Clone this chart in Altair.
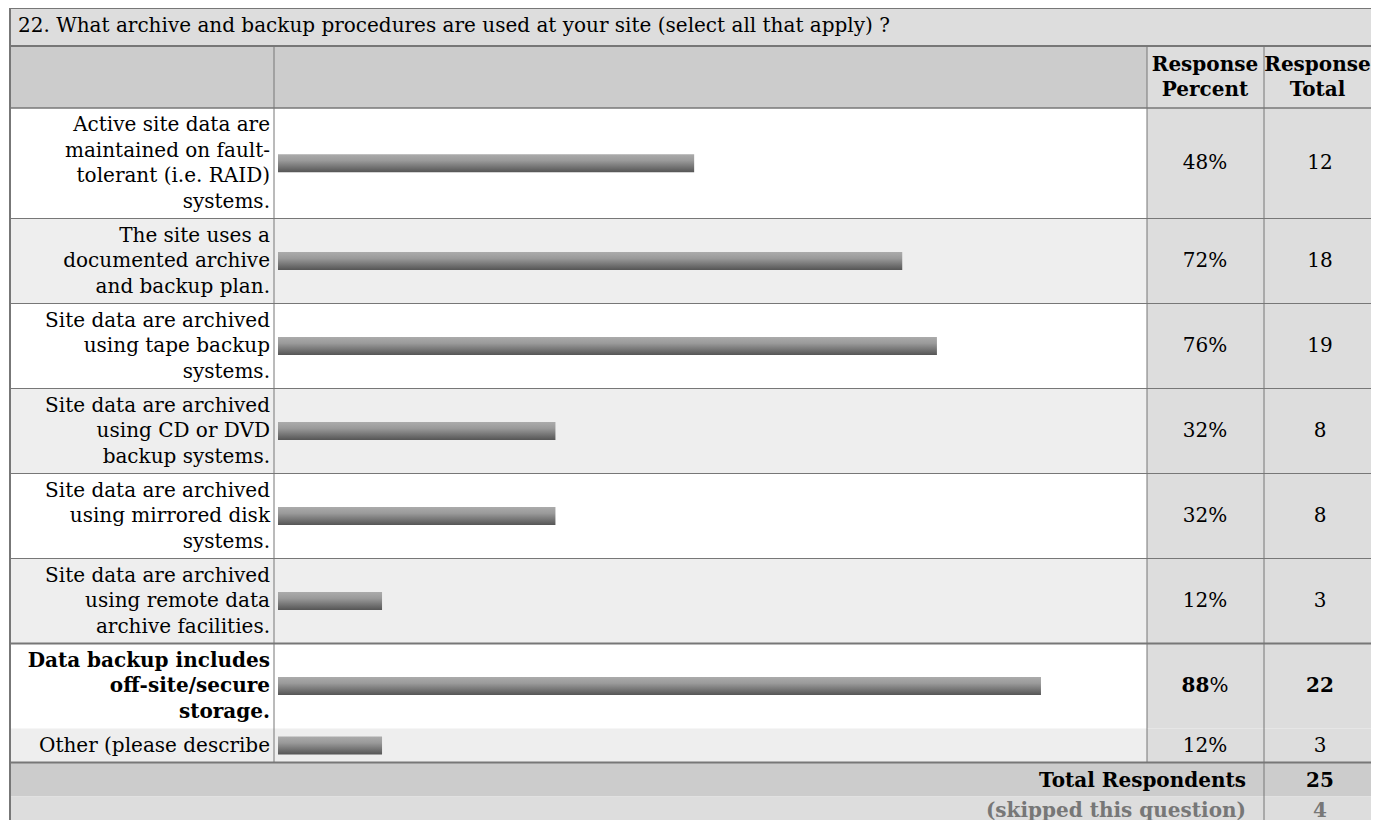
import altair as alt
import pandas as pd

# ---------------- data ----------------
question = "22. What archive and backup procedures are used at your site (select all that apply) ?"
labels = [
    "Active site data are\nmaintained on fault-\ntolerant (i.e. RAID)\nsystems.",
    "The site uses a\ndocumented archive\nand backup plan.",
    "Site data are archived\nusing tape backup\nsystems.",
    "Site data are archived\nusing CD or DVD\nbackup systems.",
    "Site data are archived\nusing mirrored disk\nsystems.",
    "Site data are archived\nusing remote data\narchive facilities.",
    "Data backup includes\noff-site/secure\nstorage.",
    "Other (please describe",
]
percents = [48, 72, 76, 32, 32, 12, 88, 12]
totals = [12, 18, 19, 8, 8, 3, 22, 3]
highlight = [False, False, False, False, False, False, True, False]
header_pct = "Response\nPercent"
header_total = "Response\nTotal"
total_label = "Total Respondents"
total_respondents = 25
skipped_label = "(skipped this question)"
skipped = 4

# ---------------- layout (page pixels) ----------------
PAGE = 8
W, H = 1363, 812
XL, XA, XB, XC, XR = 10, 274, 1147, 1264, PAGE + W
Y_TOP, Y_HEAD, Y_ROWS = 6, 46, 108
LINE_H = 25.5
PAD = 8.5
FONT = "DejaVu Serif"
FS = 20
X_LABEL, X_PCT, X_TOT = 270, 1205, 1320

row_top, row_bot, nlines = [], [], []
y = Y_ROWS
for lab in labels:
    n = lab.count("\n") + 1
    nlines.append(n)
    row_top.append(y)
    y = y + n * LINE_H + PAD
    row_bot.append(y)
Y_TOTAL = y
Y_SKIP = Y_TOTAL + LINE_H + PAD
Y_BOT = PAGE + H

rows = pd.DataFrame({
    "label": labels,
    "pct": percents,
    "total": totals,
    "bold": highlight,
    "top": row_top,
    "bot": row_bot,
    "n": nlines,
})
rows["mid"] = (rows["top"] + rows["bot"]) / 2
rows["ty"] = rows["mid"] - (rows["n"] - 1) * LINE_H / 2
rows["pct_text"] = rows["pct"].astype(str) + "%"
rows["pct_num"] = rows["pct"].astype(str)
rows["total_text"] = rows["total"].astype(str)

# background cells
cells = [
    dict(x=XL, x2=XR, y=PAGE, y2=Y_HEAD, fill="#dddddd"),
    dict(x=XL, x2=XB, y=Y_HEAD, y2=Y_ROWS, fill="#cccccc"),
    dict(x=XB, x2=XR, y=Y_HEAD, y2=Y_ROWS, fill="#dddddd"),
]
for i, (t, b) in enumerate(zip(row_top, row_bot)):
    cells.append(dict(x=XL, x2=XB, y=t, y2=b, fill="#ffffff" if i % 2 == 0 else "#eeeeee"))
    cells.append(dict(x=XB, x2=XR, y=t, y2=b, fill="#dddddd"))
cells.append(dict(x=XL, x2=XR, y=Y_TOTAL, y2=Y_SKIP, fill="#cccccc"))
cells.append(dict(x=XL, x2=XR, y=Y_SKIP, y2=Y_BOT, fill="#dddddd"))
cells = pd.DataFrame(cells)

# grid lines
lines = [
    dict(x=XL, x2=XR, y=PAGE + 0.5, y2=PAGE + 0.5, w=1),
    dict(x=XL, x2=XR, y=Y_HEAD, y2=Y_HEAD, w=2),
    dict(x=XL, x2=XR, y=Y_ROWS, y2=Y_ROWS, w=1.5),
]
for i, b in enumerate(row_bot[:-2]):
    lines.append(dict(x=XL, x2=XR, y=b, y2=b, w=2 if i == len(row_bot) - 3 else 1))
lines.append(dict(x=XL, x2=XR, y=Y_TOTAL, y2=Y_TOTAL, w=2))
lines.append(dict(x=XL, x2=XL, y=PAGE, y2=Y_BOT, w=2))
lines.append(dict(x=XA, x2=XA, y=Y_HEAD, y2=Y_TOTAL, w=1))
lines.append(dict(x=XB, x2=XB, y=Y_HEAD, y2=Y_TOTAL, w=1))
lines.append(dict(x=XC, x2=XC, y=Y_HEAD, y2=Y_BOT, w=1))
lines = pd.DataFrame(lines)

HEAD_LH = 25
texts = pd.DataFrame([
    dict(t=question, x=18, y=26, a="left", c="#000000", b=False),
    dict(t=header_pct, x=X_PCT, y=77 - HEAD_LH / 2, a="center", c="#000000", b=True),
    dict(t=header_total, x=1317.5, y=77 - HEAD_LH / 2, a="center", c="#000000", b=True),
    dict(t=total_label, x=1246, y=(Y_TOTAL + Y_SKIP) / 2 + 1, a="right", c="#000000", b=True),
    dict(t=str(total_respondents), x=X_TOT, y=(Y_TOTAL + Y_SKIP) / 2 + 1, a="center", c="#000000", b=True),
    dict(t=skipped_label, x=1246, y=Y_SKIP + 14, a="right", c="#777777", b=True),
    dict(t=str(skipped), x=X_TOT, y=Y_SKIP + 14, a="center", c="#777777", b=True),
])

XS = alt.Scale(domain=[PAGE, PAGE + W], range=[0, W], nice=False, zero=False, padding=0)
YS = alt.Scale(domain=[PAGE, PAGE + H], range=[0, H], nice=False, zero=False, padding=0)

bg = alt.Chart(cells).mark_rect(clip=True).encode(
    x=alt.X("x:Q", scale=XS, axis=None), x2="x2:Q",
    y=alt.Y("y:Q", scale=YS, axis=None), y2="y2:Q",
    fill=alt.Fill("fill:N", scale=None),
)

grid = alt.Chart(lines).mark_rule(color="#777777", clip=True).encode(
    x=alt.X("x:Q", scale=XS, axis=None), x2="x2:Q",
    y=alt.Y("y:Q", scale=YS, axis=None), y2="y2:Q",
    strokeWidth=alt.StrokeWidth("w:Q", scale=None),
)

grad = alt.Gradient(
    gradient="linear",
    stops=[
        alt.GradientStop(color="#ababab", offset=0),
        alt.GradientStop(color="#9a9a9a", offset=0.35),
        alt.GradientStop(color="#555555", offset=1),
    ],
    x1=0, x2=0, y1=0, y2=1,
)

bars = alt.Chart(rows).mark_bar(orient="horizontal", height=18, fill=grad).encode(
    x=alt.X("pct:Q", scale=alt.Scale(domain=[0, 100], range=[278 - PAGE, 1145 - PAGE], padding=0), axis=None),
    y=alt.Y("mid:Q", scale=YS, axis=None),
)


def txt(df, weight, align, color="#000000"):
    return alt.Chart(df).mark_text(
        font=FONT, fontSize=FS, fontWeight=weight, align=align, baseline="middle",
        lineBreak="\n", lineHeight=LINE_H, color=color,
    )


norm = rows[~rows["bold"]]
boldr = rows[rows["bold"]]

layers = [bg, grid, bars]
for df, wgt in [(norm, "normal"), (boldr, "bold")]:
    layers.append(txt(df, wgt, "right").encode(
        x=alt.X("lx:Q", scale=XS, axis=None),
        y=alt.Y("ty:Q", scale=YS, axis=None), text="label:N").transform_calculate(lx=str(X_LABEL)))
    layers.append(txt(df, wgt, "center").encode(
        x=alt.X("tx:Q", scale=XS, axis=None),
        y=alt.Y("mid:Q", scale=YS, axis=None), text="total_text:N").transform_calculate(tx=str(X_TOT)))

# percent column: regular rows as one string, highlighted row with bold number + regular '%'
layers.append(txt(norm, "normal", "center").encode(
    x=alt.X("px:Q", scale=XS, axis=None),
    y=alt.Y("mid:Q", scale=YS, axis=None), text="pct_text:N").transform_calculate(px=str(X_PCT)))
SPLIT = X_PCT + 4.4
layers.append(txt(boldr, "bold", "right").encode(
    x=alt.X("px:Q", scale=XS, axis=None),
    y=alt.Y("mid:Q", scale=YS, axis=None), text="pct_num:N").transform_calculate(px=str(SPLIT)))
layers.append(txt(boldr, "normal", "left").encode(
    x=alt.X("px:Q", scale=XS, axis=None),
    y=alt.Y("mid:Q", scale=YS, axis=None), text=alt.value("%")).transform_calculate(px=str(SPLIT)))

for wgt in ["normal", "bold"]:
    sub = texts[texts["b"] == (wgt == "bold")]
    for al in ["left", "center", "right"]:
        s = sub[sub["a"] == al]
        if len(s):
            layers.append(txt(s, wgt, al).encode(
                x=alt.X("x:Q", scale=XS, axis=None),
                y=alt.Y("y:Q", scale=YS, axis=None),
                text="t:N", color=alt.Color("c:N", scale=None)))

chart = alt.layer(*layers).resolve_scale(x="independent").properties(
    width=W, height=H, padding=0, autosize=alt.AutoSizeParams(type="none")
).configure_view(strokeWidth=0)

chart.save("out.html", embed_options={"renderer": "svg", "actions": False})
